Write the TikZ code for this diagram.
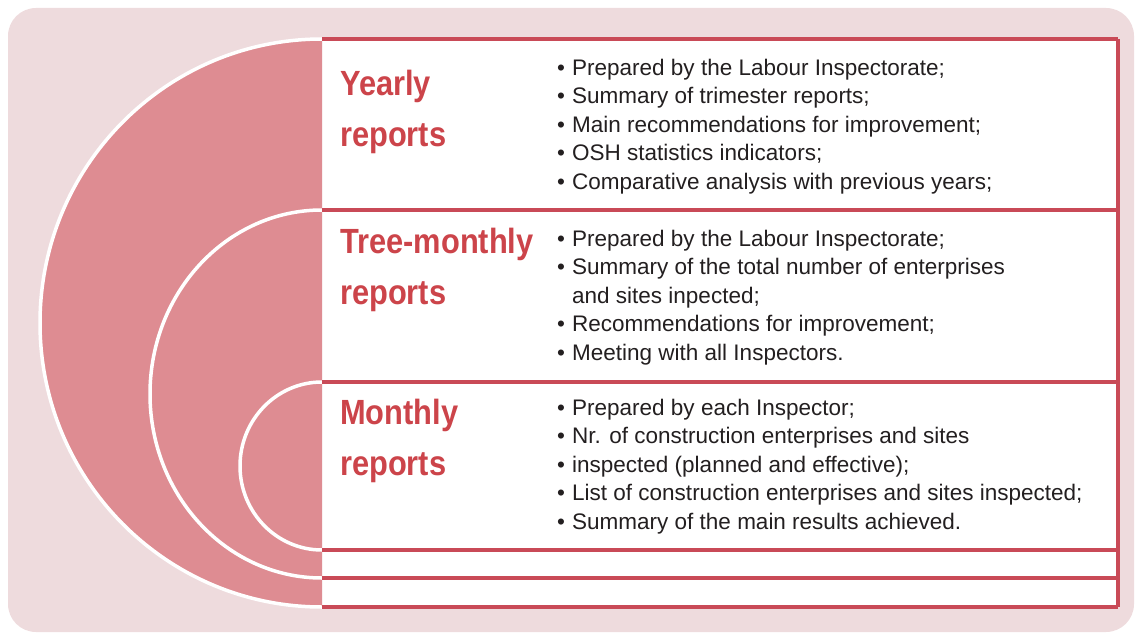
\documentclass[tikz,border=0pt]{standalone}
\usepackage{fontspec}
\setmainfont{Liberation Sans}
\newfontfamily\headfont[FakeStretch=0.88]{Liberation Sans Bold}
\definecolor{bgpink}{RGB}{238,219,221}
\definecolor{discpink}{RGB}{222,140,146}
\definecolor{rulered}{RGB}{201,74,87}
\definecolor{headred}{RGB}{204,68,74}
\definecolor{inkgrey}{RGB}{35,31,32}
\newcommand\bul{\makebox[15pt][l]{\textbullet}}
\newcommand\cont{\hspace*{15pt}}
\tikzset{
  rule/.style={draw=rulered,line width=3.5pt},
  arcline/.style={draw=white,line width=3.5pt},
  head/.style={font=\headfont\fontsize{35}{51}\selectfont,text=headred,align=left,inner sep=0pt,anchor=base west},
  items/.style={font=\fontsize{22.5}{28.6}\selectfont,text=inkgrey,align=left,inner sep=0pt,anchor=base west}
}
\begin{document}
\begin{tikzpicture}[x=1pt,y=-1pt]
	\useasboundingbox (0,0) rectangle (1138,634);
	\fill[bgpink,rounded corners=28pt] (8,8) rectangle (1134,632);
	\fill[white] (322,39) rectangle (1118,607);
	
	% half disc with the three arcs
	\fill[discpink] (322,39) arc[start angle=270,end angle=90,x radius=282,y radius=284] -- cycle;
	\draw[arcline] (322,39) arc[start angle=270,end angle=90,x radius=282,y radius=284];
	\draw[arcline] (322,210) arc[start angle=270,end angle=90,x radius=172,y radius=184];
	\draw[arcline] (322,382) arc[start angle=270,end angle=90,x radius=82,y radius=84];
	
	% table rules
	\foreach \y in {39,210,382,550,578,607}
		\draw[rule] (322,\y) -- (1118,\y);
	\draw[rule] (1118,39) -- (1118,607);
	
	% base anchor sits on the last line
	\node[head] (yearly) at (340,146) {Yearly\\reports};
	\node[head] (trimonthly) at (340,304) {Tree-monthly\\reports};
	\node[head] (monthly) at (340,475) {Monthly\\reports};
	
	\node[items] (yearlyitems) at (557,189.5) {\bul Prepared by the Labour Inspectorate;\\
		\bul Summary of trimester reports;\\
		\bul Main recommendations for improvement;\\
		\bul OSH statistics indicators;\\
		\bul Comparative analysis with previous years;};
	\node[items] (trimonthlyitems) at (557,360.5) {\bul Prepared by the Labour Inspectorate;\\
		\bul Summary of the total number of enterprises\\
		\cont and sites inpected;\\
		\bul Recommendations for improvement;\\
		\bul Meeting with all Inspectors.};
	\node[items] (monthlyitems) at (557,529.5) {\bul Prepared by each Inspector;\\
		\bul Nr. of construction enterprises and sites\\
		\bul inspected (planned and effective);\\
		\bul List of construction enterprises and sites inspected;\\
		\bul Summary of the main results achieved.};
\end{tikzpicture}
\end{document}
